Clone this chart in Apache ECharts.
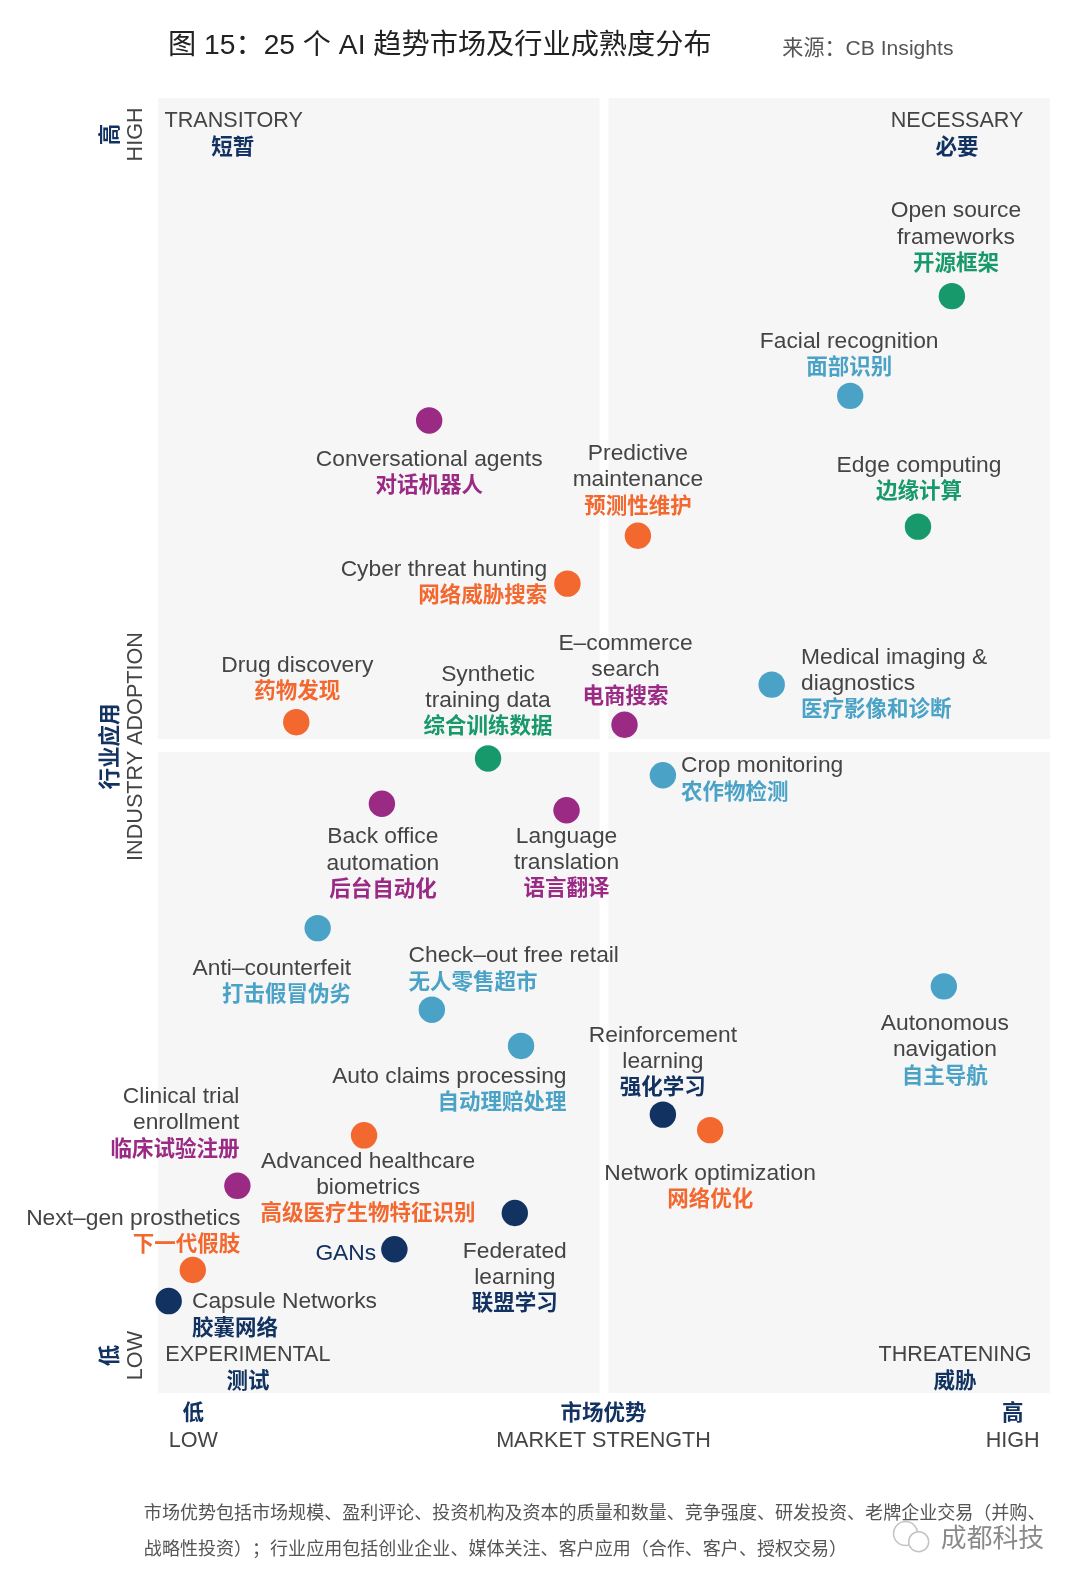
<!DOCTYPE html>
<html><head><meta charset="utf-8">
<style>html,body{margin:0;padding:0;background:#fff}#c{width:1080px;height:1585px}</style>
<script src="https://cdn.jsdelivr.net/npm/echarts@6/dist/echarts.min.js"></script>
</head><body><div id="c"></div>
<script>
const namesEn = [
 ["Open source","frameworks"],["Facial recognition"],["Edge computing"],["Conversational agents"],
 ["Predictive","maintenance"],["Cyber threat hunting"],["Drug discovery"],["Synthetic","training data"],
 ["E–commerce","search"],["Medical imaging &","diagnostics"],["Crop monitoring"],["Back office","automation"],
 ["Language","translation"],["Anti–counterfeit"],["Check–out free retail"],["Auto claims processing"],
 ["Autonomous","navigation"],["Reinforcement","learning"],["Network optimization"],["Advanced healthcare","biometrics"],
 ["Clinical trial","enrollment"],["Federated","learning"],["GANs"],["Next–gen prosthetics"],["Capsule Networks"]];
const namesZh = ["开源框架","面部识别","边缘计算","对话机器人","预测性维护","网络威胁搜索","药物发现","综合训练数据",
 "电商搜索","医疗影像和诊断","农作物检测","后台自动化","语言翻译","打击假冒伪劣","无人零售超市","自动理赔处理",
 "自主导航","强化学习","网络优化","高级医疗生物特征识别","临床试验注册","联盟学习","","下一代假肢","胶囊网络"];
const marketStrength = [89.0,77.6,85.2,30.4,53.8,45.9,15.5,37.0,52.3,68.8,56.6,25.1,45.8,17.9,30.7,40.7,88.1,56.6,61.9,23.1,8.9,40.0,26.5,3.9,1.2];
const industryAdoption = [84.7,77.0,66.9,75.1,66.2,62.5,51.8,49.0,51.6,54.7,47.7,45.5,45.0,35.9,29.6,26.8,31.4,21.5,20.3,19.9,16.0,13.9,11.1,9.5,7.1];
const groups = ["g","b","g","p","o","o","o","g","p","b","b","p","p","b","b","b","b","n","o","o","p","n","n","o","n"];

const palette = {g:"#17996b",b:"#4aa3c6",p:"#9a2a84",o:"#f2682f",n:"#123261"};
// label placement: [align, dx, dy] from the dot centre to the top of the text block
const place = [
 ["center",4,-99],["center",-1,-69],["center",1,-75],["center",0,24],["center",0,-96],["right",-20,-29],
 ["center",1,-71],["center",0,-98],["center",1,-95],["left",29,-42],["left",18,-24],["center",1,18],
 ["center",0,11],["right",33,25],["left",-23,-68],["right",45,15],["center",1,22],["center",0,-93],
 ["center",0,28],["center",4,11],["right",2,-103],["center",0,23],["right",-18,-10],["right",47,-66],["left",23,-14]];

const SANS = "'Liberation Sans','Noto Sans CJK SC',sans-serif";
const CJK = "'Noto Sans CJK SC','Liberation Sans',sans-serif";
const DARK = "#444";
const NAVY = "#123261";
const S = 1.011;
const R = 13.2;
const LH = 26.3;
const sx = x => 158+(x-156)*1.0102;
const sy = y => 98+(y-98)*1.0117;

const rich = {en:{fontFamily:SANS,fontSize:22.8,lineHeight:LH,color:DARK,padding:[4,0,0,0]}};
Object.keys(palette).forEach(k=>{
  rich["zh"+k]={fontFamily:CJK,fontWeight:"bold",fontSize:21.5,lineHeight:LH,color:palette[k]};
  rich["on"+k]={fontFamily:SANS,fontSize:22.8,lineHeight:LH,color:palette[k],padding:[2,0,0,0]};
});

const points = namesEn.map((en,i)=>{
  const g=groups[i],[al,dx,dy]=place[i];
  const lines = namesZh[i]
    ? en.map(t=>`{en|${t}}`).concat(`{zh${g}|${namesZh[i]}}`)
    : en.map(t=>`{on${g}|${t}}`);
  return {value:[marketStrength[i],industryAdoption[i]],
    itemStyle:{color:palette[g]},
    label:{show:true,position:[R+dx*S,R+dy*S],align:al,verticalAlign:"top",formatter:lines.join("\n"),rich}};
});

function txt(text,x,y,o){
  o=o||{};
  return {type:"text",x:sx(x),y:sy(y),rotation:o.rot||0,silent:true,z:10,
    style:{text,fill:o.color||DARK,font:`${o.weight||"normal"} ${o.size||21}px ${o.cjk?CJK:SANS}`,
      align:o.align||"center",verticalAlign:"middle"}};
}
const V=Math.PI/2;
const ZH={size:21.5,color:NAVY,weight:"bold",cjk:true};
const EN={size:21.6};
const VZH=Object.assign({rot:V},ZH), VEN=Object.assign({rot:V},EN);
const graphics=[
 txt("图 15：25 个 AI 趋势市场及行业成熟度分布",166,47,{size:28.2,align:"left",color:"#222"}),
 txt("来源：CB Insights",774,50,{size:21.1,align:"left",color:"#555"}),
 txt("TRANSITORY",231,121,EN), txt("短暂",230,145,ZH),
 txt("NECESSARY",947,121,EN), txt("必要",947,145,ZH),
 txt("EXPERIMENTAL",245,1341,EN), txt("测试",245,1365,ZH),
 txt("THREATENING",945,1341,EN), txt("威胁",945,1365,ZH),
 txt("HIGH",134,134,VEN), txt("高",107,134,VZH),
 txt("INDUSTRY ADOPTION",134,739,VEN), txt("行业应用",107,739,VZH),
 txt("LOW",134,1341,VEN), txt("低",107,1341,VZH),
 txt("低",191,1397,ZH), txt("LOW",191,1426,EN),
 txt("市场优势",597,1397,ZH), txt("MARKET STRENGTH",597,1426,EN),
 txt("高",1002,1397,ZH), txt("HIGH",1002,1426,EN),
 txt("市场优势包括市场规模、盈利评论、投资机构及资本的质量和数量、竞争强度、研发投资、老牌企业交易（并购、",142,1496,{size:18.05,align:"left",color:"#555",cjk:true}),
 txt("战略性投资）；行业应用包括创业企业、媒体关注、客户应用（合作、客户、授权交易）",142,1531,{size:18.05,align:"left",color:"#555",cjk:true}),
 txt("成都科技",982,1521,{size:25.8,color:"#8a8a8a",cjk:true}),
 {type:"circle",shape:{cx:sx(896),cy:sy(1517),r:12},style:{fill:"#fff",stroke:"#c4c4c4",lineWidth:1.5},silent:true,z:9},
 {type:"circle",shape:{cx:sx(909),cy:sy(1525),r:10},style:{fill:"#fff",stroke:"#c4c4c4",lineWidth:1.5},silent:true,z:9}
];

const gapX=[49.5,50.5], gapY=[49.5,50.5];
const quad=(x0,x1,y0,y1)=>[{coord:[x0,y0]},{coord:[x1,y1]}];

const chart=echarts.init(document.getElementById("c"),null,{renderer:"canvas"});
chart.setOption({
  animation:false,
  backgroundColor:"#fff",
  grid:{left:158,top:98,width:892,height:1295,show:false},
  xAxis:{type:"value",min:0,max:100,show:false},
  yAxis:{type:"value",min:0,max:100,show:false},
  graphic:graphics,
  series:[{
    type:"scatter",
    symbol:"circle",symbolSize:2*R,
    clip:false,
    data:points,
    itemStyle:{opacity:1},
    markArea:{silent:true,z:0,itemStyle:{color:"#f6f6f6"},data:[
      quad(0,gapX[0],gapY[1],100),quad(gapX[1],100,gapY[1],100),
      quad(0,gapX[0],0,gapY[0]),quad(gapX[1],100,0,gapY[0])]}
  }]
});
</script></body></html>
